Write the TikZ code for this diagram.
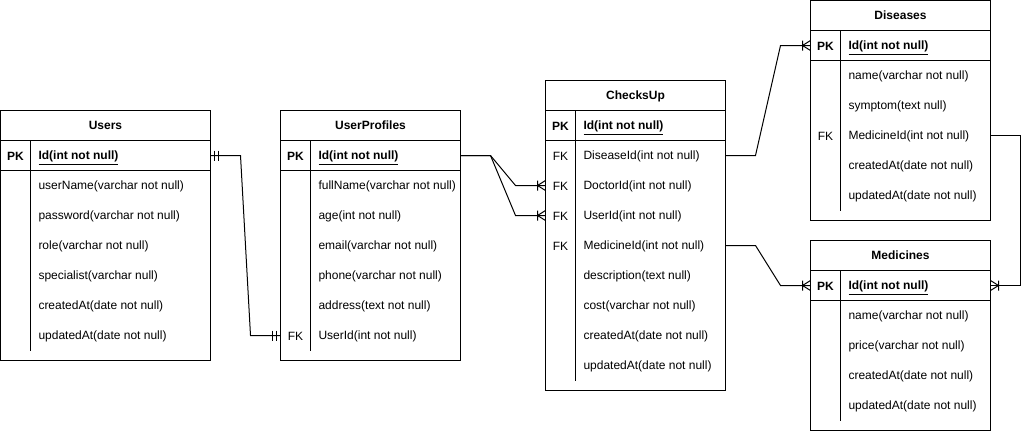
\documentclass[tikz,border=0pt]{standalone}
\usepackage{fontspec}
\setmainfont{Liberation Sans}
\begin{document}
\begin{tikzpicture}[x=1pt,y=-1pt,line width=1pt,
  every node/.style={font=\fontsize{12pt}{14pt}\selectfont},
  frame/.style={draw=black,line width=1pt},
  tbox/.style={draw=black,line width=1pt,anchor=north west,inner sep=0pt,outer sep=0pt},
  title/.style={inner sep=0pt,text depth=0pt,font=\fontsize{12pt}{14pt}\selectfont\bfseries},
  keycell/.style={inner sep=0pt,yshift=-1pt},
  rowcell/.style={anchor=west,inner xsep=8pt,inner ysep=0pt,text depth=0pt,minimum height=30pt,outer sep=0pt},
  conn/.style={draw=black,line width=1pt},
  crowL/.pic={\draw[line width=1pt] (-8,-5)--(-8,5) (-8,0)--(0,-5) (-8,0)--(0,5);},
  crowR/.pic={\draw[line width=1pt] (8,-5)--(8,5) (8,0)--(0,-5) (8,0)--(0,5);},
  oneL/.pic={\draw[line width=1pt] (-4,-5)--(-4,5) (-8,-5)--(-8,5);},
  oneR/.pic={\draw[line width=1pt] (4,-5)--(4,5) (8,-5)--(8,5);}
]
\useasboundingbox (-0.5,-0.5) rectangle (1028.5,430.5);

% ---------- Users ----------
\node[tbox,minimum width=210pt,minimum height=250pt] (tusers) at (0,110) {};
\draw[frame] (0,140) -- (210,140) (0,170) -- (210,170) (30,140) -- (30,350);
\node[title] (users) at (105,125) {Users};
\node[keycell] (u-pk) at (15,155) {\textbf{PK}};
\node[rowcell] (u-id) at (30,155) {\makebox[164pt][l]{\textbf{\underline{Id(int not null)}}}};
\node[rowcell] (u-un) at (30,185) {\makebox[164pt][l]{userName(varchar not null)}};
\node[rowcell] (u-pw) at (30,215) {\makebox[164pt][l]{password(varchar not null)}};
\node[rowcell] (u-ro) at (30,245) {\makebox[164pt][l]{role(varchar not null)}};
\node[rowcell] (u-sp) at (30,275) {\makebox[164pt][l]{specialist(varchar null)}};
\node[rowcell] (u-ca) at (30,305) {\makebox[164pt][l]{createdAt(date not null)}};
\node[rowcell] (u-ua) at (30,335) {\makebox[164pt][l]{updatedAt(date not null)}};

% ---------- UserProfiles ----------
\node[tbox,minimum width=180pt,minimum height=250pt] (tup) at (280,110) {};
\draw[frame] (280,140) -- (460,140) (280,170) -- (460,170) (310,140) -- (310,350);
\node[title] (userprofiles) at (370,125) {UserProfiles};
\node[keycell] (up-pk) at (295,155) {\textbf{PK}};
\node[rowcell] (up-id) at (310,155) {\makebox[134pt][l]{\textbf{\underline{Id(int not null)}}}};
\node[rowcell] (up-fn) at (310,185) {\makebox[134pt][l]{fullName(varchar not null)}};
\node[rowcell] (up-ag) at (310,215) {\makebox[134pt][l]{age(int not null)}};
\node[rowcell] (up-em) at (310,245) {\makebox[134pt][l]{email(varchar not null)}};
\node[rowcell] (up-ph) at (310,275) {\makebox[134pt][l]{phone(varchar not null)}};
\node[rowcell] (up-ad) at (310,305) {\makebox[134pt][l]{address(text not null)}};
\node[keycell] (up-fk) at (295,335) {FK};
\node[rowcell] (up-uid) at (310,335) {\makebox[134pt][l]{UserId(int not null)}};

% ---------- ChecksUp ----------
\node[tbox,minimum width=180pt,minimum height=310pt] (tcu) at (545,80) {};
\draw[frame] (545,110) -- (725,110) (545,140) -- (725,140) (575,110) -- (575,380);
\node[title] (checksup) at (635,95) {ChecksUp};
\node[keycell] (cu-pk) at (560,125) {\textbf{PK}};
\node[rowcell] (cu-id) at (575,125) {\makebox[134pt][l]{\textbf{\underline{Id(int not null)}}}};
\node[keycell] (cu-fk1) at (560,155) {FK};
\node[rowcell] (cu-dis) at (575,155) {\makebox[134pt][l]{DiseaseId(int not null)}};
\node[keycell] (cu-fk2) at (560,185) {FK};
\node[rowcell] (cu-doc) at (575,185) {\makebox[134pt][l]{DoctorId(int not null)}};
\node[keycell] (cu-fk3) at (560,215) {FK};
\node[rowcell] (cu-uid) at (575,215) {\makebox[134pt][l]{UserId(int not null)}};
\node[keycell] (cu-fk4) at (560,245) {FK};
\node[rowcell] (cu-med) at (575,245) {\makebox[134pt][l]{MedicineId(int not null)}};
\node[rowcell] (cu-de) at (575,275) {\makebox[134pt][l]{description(text null)}};
\node[rowcell] (cu-co) at (575,305) {\makebox[134pt][l]{cost(varchar not null)}};
\node[rowcell] (cu-ca) at (575,335) {\makebox[134pt][l]{createdAt(date not null)}};
\node[rowcell] (cu-ua) at (575,365) {\makebox[134pt][l]{updatedAt(date not null)}};

% ---------- Diseases ----------
\node[tbox,minimum width=180pt,minimum height=220pt] (tdis) at (810,0) {};
\draw[frame] (810,30) -- (990,30) (810,60) -- (990,60) (840,30) -- (840,210);
\node[title] (diseases) at (900,15) {Diseases};
\node[keycell] (d-pk) at (825,45) {\textbf{PK}};
\node[rowcell] (d-id) at (840,45) {\makebox[134pt][l]{\textbf{\underline{Id(int not null)}}}};
\node[rowcell] (d-na) at (840,75) {\makebox[134pt][l]{name(varchar not null)}};
\node[rowcell] (d-sy) at (840,105) {\makebox[134pt][l]{symptom(text null)}};
\node[keycell] (d-fk) at (825,135) {FK};
\node[rowcell] (d-med) at (840,135) {\makebox[134pt][l]{MedicineId(int not null)}};
\node[rowcell] (d-ca) at (840,165) {\makebox[134pt][l]{createdAt(date not null)}};
\node[rowcell] (d-ua) at (840,195) {\makebox[134pt][l]{updatedAt(date not null)}};

% ---------- Medicines ----------
\node[tbox,minimum width=180pt,minimum height=190pt] (tmed) at (810,240) {};
\draw[frame] (810,270) -- (990,270) (810,300) -- (990,300) (840,270) -- (840,420);
\node[title] (medicines) at (900,255) {Medicines};
\node[keycell] (m-pk) at (825,285) {\textbf{PK}};
\node[rowcell] (m-id) at (840,285) {\makebox[134pt][l]{\textbf{\underline{Id(int not null)}}}};
\node[rowcell] (m-na) at (840,315) {\makebox[134pt][l]{name(varchar not null)}};
\node[rowcell] (m-pr) at (840,345) {\makebox[134pt][l]{price(varchar not null)}};
\node[rowcell] (m-ca) at (840,375) {\makebox[134pt][l]{createdAt(date not null)}};
\node[rowcell] (m-ua) at (840,405) {\makebox[134pt][l]{updatedAt(date not null)}};

% ---------- Connectors ----------
\coordinate (e1) at (up-uid.west -| tup.west);
\draw[conn] (u-id.east) -- ++(30,0) -- ([xshift=-30pt]e1) -- (e1);
\pic at (u-id.east) {oneR};
\pic at (e1) {oneL};

\coordinate (e2) at (cu-doc.west -| tcu.west);
\coordinate (e3) at (cu-uid.west -| tcu.west);
\draw[conn] (up-id.east) -- ++(30,0) -- ([xshift=-30pt]e2) -- (e2);
\draw[conn] (up-id.east) -- ++(30,0) -- ([xshift=-30pt]e3) -- (e3);
\pic at (e2) {crowL};
\pic at (e3) {crowL};

\coordinate (e4) at (d-id.west -| tdis.west);
\draw[conn] (cu-dis.east) -- ++(30,0) -- ([xshift=-30pt]e4) -- (e4);
\pic at (e4) {crowL};

\coordinate (e5) at (m-id.west -| tmed.west);
\draw[conn] (cu-med.east) -- ++(30,0) -- ([xshift=-30pt]e5) -- (e5);
\pic at (e5) {crowL};

\draw[conn] (d-med.east) -- ++(30,0) |- (m-id.east);
\pic at (m-id.east) {crowR};
\end{tikzpicture}
\end{document}
